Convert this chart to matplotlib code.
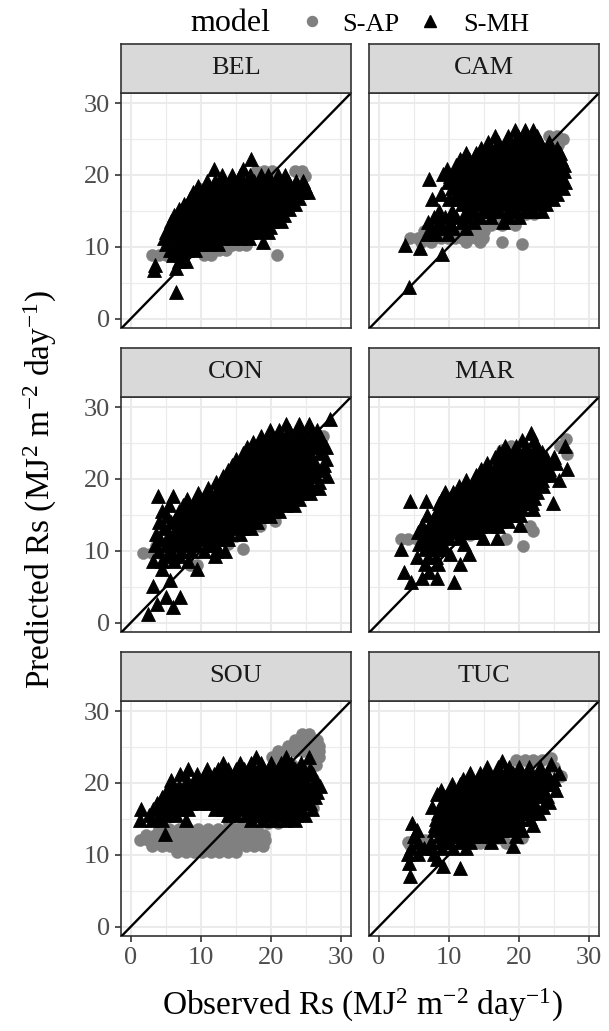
import numpy as np
import matplotlib.pyplot as plt
from matplotlib.lines import Line2D

plt.rcParams["font.family"] = ["Liberation Serif", "DejaVu Serif"]
plt.rcParams["mathtext.fontset"] = "custom"
plt.rcParams["mathtext.rm"] = "Liberation Serif"
plt.rcParams["mathtext.it"] = "Liberation Serif:italic"

sites = ["BEL", "CAM", "CON", "MAR", "SOU", "TUC"]
ticks = [0, 10, 20, 30]
minor_ticks = [5, 15, 25]
models = ["S-AP", "S-MH"]

# points, stored as rows: (predicted, [observed, ...])
bel_ap = [
    (20.6, [17.8, 19.0, 20.2, 23.4, 24.4]),
    (19.8, [24.9]),
    (18.0, [10.0]),
    (17.0, [12.0, 16.0, 20.0, 23.8]),
    (15.0, [9.0, 13.0, 17.0, 21.0]),
    (13.0, [7.0, 11.0, 15.0, 19.0]),
    (11.4, [8.0, 12.0, 16.0]),
    (10.3, [14.4, 15.4, 16.4]),
    (9.5, [11.6, 12.6, 13.6]),
    (8.8, [3.0, 4.0, 5.0, 6.0, 7.0, 10.4, 11.4]),
    (8.9, [20.8]),
]
bel_mh = [
    (22.2, [17.1]),
    (20.8, [11.9, 16.0]),
    (20.0, [13.0, 14.5, 15.5, 17.0, 18.5, 19.5, 21.0, 22.0]),
    (19.2, [10.8, 12.0, 13.2, 14.2, 15.4, 16.5, 17.6, 18.8, 20.0, 21.2, 22.4, 23.6, 24.6]),
    (18.4, [9.6, 10.8, 11.8, 13.0, 14.2, 15.2, 16.4, 17.6, 18.6, 19.8, 21.0, 22.2, 23.4, 24.8]),
    (17.6, [8.8, 10.0, 11.2, 12.4, 13.6, 14.8, 16.0, 17.2, 18.4, 19.6, 20.8, 22.0, 23.2, 24.4, 25.2]),
    (16.8, [8.4, 9.6, 10.8, 12.0, 13.2, 14.4, 15.6, 16.8, 18.0, 19.2, 20.4, 21.6, 22.8, 24.0]),
    (16.0, [7.6, 8.8, 10.0, 11.2, 12.4, 13.6, 14.8, 16.0, 17.2, 18.4, 19.6, 20.8, 22.0, 23.4]),
    (15.2, [6.8, 8.0, 9.2, 10.4, 11.6, 12.8, 14.0, 15.2, 16.4, 17.6, 18.8, 20.0, 21.2, 22.6]),
    (14.4, [6.2, 7.4, 8.6, 9.8, 11.0, 12.2, 13.4, 14.6, 15.8, 17.0, 18.2, 19.4, 20.6, 21.8]),
    (13.6, [5.8, 7.0, 8.2, 9.4, 10.6, 11.8, 13.0, 14.2, 15.4, 16.6, 17.8, 19.0, 20.2, 21.4]),
    (12.8, [5.4, 6.6, 7.8, 9.0, 10.2, 11.4, 12.6, 13.8, 15.0, 16.2, 17.4, 18.6, 19.8]),
    (12.0, [5.0, 6.2, 7.4, 8.6, 9.8, 11.0, 12.2, 13.4, 14.6, 15.8, 17.0, 18.2, 19.6]),
    (11.2, [4.8, 6.0, 7.2, 8.4, 9.6, 10.8, 12.0, 13.2, 14.4, 15.6, 16.8]),
    (10.6, [18.8]),
    (10.4, [5.0, 6.4, 7.6, 8.8, 10.0, 11.2, 12.4]),
    (9.6, [5.6, 6.8, 8.0, 9.2]),
    (8.8, [6.0, 7.2]),
    (8.0, [6.8, 7.8]),
    (7.5, [3.5]),
    (7.0, [6.4]),
    (6.8, [3.3]),
    (3.7, [6.5]),
]

cam_ap = [
    (25.4, [24.3, 25.4]),
    (25.0, [26.2]),
    (24.2, [25.6]),
    (22.0, [14.0, 18.0, 22.0]),
    (18.0, [13.0, 17.0, 21.0, 25.0]),
    (14.6, [17.0, 19.0, 21.0, 22.2]),
    (13.0, [14.6, 16.0, 17.6, 19.4]),
    (12.2, [6.4, 8.0, 10.0, 12.0, 13.8, 15.0]),
    (11.2, [4.5, 5.6, 6.8, 7.8, 8.8, 9.8, 10.8, 11.8, 12.8, 13.8, 14.8]),
    (10.6, [6.0, 7.4, 12.5, 14.5, 17.5]),
    (10.4, [20.4]),
]
cam_mh = [
    (26.2, [19.4, 20.8, 22.0]),
    (25.4, [16.5, 18.4, 19.8, 21.2, 22.6]),
    (24.6, [15.6, 17.0, 18.2, 19.4, 20.6, 21.8, 23.0, 24.2]),
    (23.8, [14.6, 15.8, 17.0, 18.2, 19.4, 20.6, 21.8, 23.0, 24.2, 25.4]),
    (23.0, [12.5, 13.8, 15.0, 16.2, 17.4, 18.6, 19.8, 21.0, 22.2, 23.4, 24.6, 25.8]),
    (22.2, [11.6, 12.8, 14.0, 15.2, 16.4, 17.6, 18.8, 20.0, 21.2, 22.4, 23.6, 24.8, 26.0]),
    (21.4, [11.0, 12.2, 13.4, 14.6, 15.8, 17.0, 18.2, 19.4, 20.6, 21.8, 23.0, 24.2, 25.4, 26.4]),
    (20.8, [9.7]),
    (20.6, [10.8, 12.0, 13.2, 14.4, 15.6, 16.8, 18.0, 19.2, 20.4, 21.6, 22.8, 24.0, 25.2, 26.4]),
    (20.1, [9.2]),
    (19.8, [10.2, 11.4, 12.6, 13.8, 15.0, 16.2, 17.4, 18.6, 19.8, 21.0, 22.2, 23.4, 24.6, 25.8]),
    (19.4, [7.1]),
    (19.0, [9.8, 11.0, 12.2, 13.4, 14.6, 15.8, 17.0, 18.2, 19.4, 20.6, 21.8, 23.0, 24.2, 25.4, 26.6]),
    (18.2, [10.4, 11.6, 12.8, 14.0, 15.2, 16.4, 17.6, 18.8, 20.0, 21.2, 22.4, 23.6, 24.8, 26.2]),
    (17.4, [8.8, 11.0, 12.2, 13.4, 14.6, 15.8, 17.0, 18.2, 19.4, 20.6, 21.8, 23.0, 24.2, 25.4]),
    (16.7, [7.6, 10.0, 11.4, 12.6, 13.8, 15.0, 16.2, 17.4, 18.6, 19.8, 21.0, 22.2, 23.4, 24.8]),
    (15.9, [11.8, 13.0, 14.2, 15.4, 16.6, 17.8, 19.0, 20.2, 21.4, 22.6, 23.8]),
    (15.0, [8.6, 10.4, 12.4, 13.6, 14.8, 16.0, 17.2, 18.4, 19.6, 20.8, 22.0, 23.2]),
    (14.2, [7.8, 9.4, 11.0, 12.6, 14.4, 16.0, 18.6, 20.0]),
    (13.4, [7.0, 8.6, 10.2, 11.8, 13.6, 17.7]),
    (12.6, [7.4, 9.0, 10.6, 12.4]),
    (11.8, [6.8, 8.2, 9.8]),
    (10.2, [3.8]),
    (9.9, [5.9]),
    (9.0, [9.0]),
    (4.4, [4.3]),
]

con_ap = [
    (26.0, [27.4]),
    (25.2, [20.4]),
    (24.6, [26.9]),
    (22.0, [18.0, 22.0, 26.0]),
    (18.0, [13.0, 17.0, 21.0]),
    (14.1, [20.6]),
    (13.4, [18.4]),
    (14.0, [11.0, 15.0]),
    (12.1, [15.0]),
    (11.0, [13.8]),
    (10.2, [16.0]),
    (10.6, [3.6, 6.0, 9.0]),
    (9.7, [1.8, 3.0, 4.2]),
    (8.8, [5.2, 6.5]),
    (8.0, [8.5, 9.4]),
]
con_mh = [
    (28.3, [28.4]),
    (27.6, [22.2, 24.0, 25.4]),
    (26.8, [19.8, 21.2, 22.6, 24.0, 25.4, 26.6]),
    (26.0, [18.6, 19.8, 21.0, 22.2, 23.4, 24.6, 25.8, 27.0]),
    (25.2, [17.4, 18.6, 19.8, 21.0, 22.2, 23.4, 24.6, 25.8, 27.4]),
    (24.4, [16.6, 17.8, 19.0, 20.2, 21.4, 22.6, 23.8, 25.0, 26.4, 27.8]),
    (23.6, [16.0, 17.2, 18.4, 19.6, 20.8, 22.0, 23.2, 24.4, 25.6, 27.0]),
    (22.8, [15.0, 16.2, 17.4, 18.6, 19.8, 21.0, 22.2, 23.4, 24.6, 25.8, 27.8]),
    (22.0, [14.4, 15.6, 16.8, 18.0, 19.2, 20.4, 21.6, 22.8, 24.0, 25.2, 26.4, 27.6]),
    (21.2, [13.8, 15.0, 16.2, 17.4, 18.6, 19.8, 21.0, 22.2, 23.4, 24.6, 25.8, 27.2]),
    (20.4, [13.2, 14.4, 15.6, 16.8, 18.0, 19.2, 20.4, 21.6, 22.8, 24.0, 25.2, 26.4, 28.0]),
    (19.6, [12.2, 13.4, 14.6, 15.8, 17.0, 18.2, 19.4, 20.6, 21.8, 23.0, 24.2, 25.4, 26.8]),
    (18.8, [11.0, 12.4, 13.6, 14.8, 16.0, 17.2, 18.4, 19.6, 20.8, 22.0, 23.2, 24.4, 25.6, 26.8]),
    (18.0, [9.6, 11.0, 12.2, 13.4, 14.6, 15.8, 17.0, 18.2, 19.4, 20.6, 21.8, 23.0, 24.4, 25.6]),
    (17.6, [3.9, 6.0]),
    (17.2, [8.0, 9.4, 10.6, 11.8, 13.0, 14.2, 15.4, 16.6, 17.8, 19.0, 20.2, 21.4, 22.8, 24.0]),
    (16.4, [5.4, 7.4, 8.8, 10.0, 11.2, 12.4, 13.6, 14.8, 16.0, 17.2, 18.4, 19.6, 20.8, 22.2, 23.2]),
    (15.6, [4.4, 6.8, 8.0, 9.2, 10.4, 11.6, 12.8, 14.0, 15.2, 16.4, 17.6, 18.8, 20.0, 21.2]),
    (14.8, [5.2, 6.6, 7.8, 9.0, 10.2, 11.4, 12.6, 13.8, 15.0, 16.2, 17.4, 18.6, 19.8]),
    (14.0, [4.0, 5.8, 7.2, 8.4, 9.6, 10.8, 12.0, 13.2, 14.4, 15.6, 16.8, 18.0]),
    (13.2, [4.8, 6.4, 7.6, 8.8, 10.0, 11.2, 12.4, 13.6, 14.8, 16.0, 17.2]),
    (12.4, [3.6, 5.4, 6.8, 8.0, 9.2, 10.4, 11.6, 12.8, 14.0, 15.6]),
    (11.6, [4.2, 6.0, 7.4, 8.6, 10.0, 11.4, 12.6, 13.8]),
    (10.8, [3.4, 5.0, 6.6, 8.0, 9.4, 11.0, 12.2]),
    (10.0, [4.0, 5.8, 7.2, 8.6, 10.4, 12.2, 13.4]),
    (9.3, [5.2, 6.8, 12.0]),
    (8.6, [3.2, 4.4, 6.2, 8.2]),
    (7.4, [4.4, 9.4]),
    (6.0, [5.6]),
    (5.1, [3.2]),
    (3.6, [5.0, 7.0]),
    (2.6, [3.7]),
    (2.2, [6.0]),
    (1.2, [2.5]),
]

mar_ap = [
    (25.5, [26.7]),
    (24.6, [18.9, 25.8]),
    (24.0, [17.6]),
    (23.4, [26.9]),
    (21.0, [16.0, 20.0, 24.0]),
    (17.0, [12.0, 16.0, 20.0]),
    (14.0, [10.0, 14.0, 18.0]),
    (13.4, [21.6]),
    (12.8, [22.0]),
    (12.2, [5.9, 13.0]),
    (11.6, [3.1, 4.2, 5.4, 6.8, 18.2]),
    (10.7, [20.6]),
]
mar_mh = [
    (26.4, [21.7]),
    (25.4, [20.4, 22.2]),
    (24.6, [18.0, 19.6, 21.0, 22.4, 26.5]),
    (23.8, [17.2, 18.4, 19.6, 20.8, 22.0, 23.2]),
    (23.0, [16.6, 17.8, 19.0, 20.2, 21.4, 22.6, 23.8, 25.0]),
    (22.2, [15.4, 16.8, 18.0, 19.2, 20.4, 21.6, 22.8, 24.0, 25.2]),
    (21.4, [14.6, 15.8, 17.0, 18.2, 19.4, 20.6, 21.8, 23.0, 24.2, 26.9]),
    (20.6, [13.8, 15.0, 16.2, 17.4, 18.6, 19.8, 21.0, 22.2, 23.4, 24.6]),
    (19.8, [12.4, 13.6, 14.8, 16.0, 17.2, 18.4, 19.6, 20.8, 22.0, 23.2, 25.7]),
    (19.0, [11.4, 12.6, 13.8, 15.0, 16.2, 17.4, 18.6, 19.8, 21.0, 22.2, 23.4]),
    (18.2, [9.4, 10.6, 11.8, 13.0, 14.2, 15.4, 16.6, 17.8, 19.0, 20.2, 21.4, 22.6]),
    (17.4, [9.0, 10.2, 11.4, 12.6, 13.8, 15.0, 16.2, 17.4, 18.6, 19.8, 21.0, 22.2]),
    (16.9, [4.5, 6.7]),
    (16.6, [8.6, 9.8, 11.0, 12.2, 13.4, 14.6, 15.8, 17.0, 18.2, 19.4, 20.6, 21.8, 24.8]),
    (15.8, [8.4, 9.6, 10.8, 12.0, 13.2, 14.4, 15.6, 16.8, 18.0, 19.2, 20.4, 22.0]),
    (15.0, [6.9, 8.2, 9.4, 10.6, 11.8, 13.0, 14.2, 15.4, 16.6, 17.8, 19.0, 20.2]),
    (14.2, [7.6, 8.8, 10.0, 11.2, 12.4, 13.6, 14.8, 16.0, 17.2, 18.4]),
    (13.6, [6.2, 20.1]),
    (13.4, [7.2, 8.4, 9.6, 10.8, 12.0, 13.2, 14.4, 15.6, 17.0]),
    (12.6, [5.6, 7.0, 8.2, 9.4, 10.6, 11.8, 13.0, 14.0]),
    (11.8, [6.4, 7.6, 8.8, 10.0, 11.4, 14.9, 16.8]),
    (11.0, [5.8, 7.0, 8.0, 9.2, 12.2]),
    (10.2, [3.1, 6.6, 7.8, 9.0]),
    (9.6, [10.2, 12.8]),
    (9.2, [5.4, 7.0, 8.2]),
    (8.2, [6.6, 8.5, 11.6]),
    (7.0, [3.6, 7.2]),
    (6.2, [6.2, 8.3]),
    (5.6, [4.6, 10.7]),
]

sou_ap = [
    (26.8, [24.4, 25.4]),
    (26.0, [23.4, 24.6, 25.8, 26.6]),
    (25.2, [22.4, 23.6, 24.8, 26.0, 26.8]),
    (24.4, [21.0, 22.2, 23.4, 24.6, 25.8, 26.8]),
    (23.6, [20.2, 21.4, 26.8]),
    (22.5, [21.0, 23.0, 25.0, 26.4]),
    (20.5, [22.0, 24.0, 26.0]),
    (18.5, [21.0, 23.0, 25.0, 26.4]),
    (16.5, [20.0, 22.0, 24.0, 26.0]),
    (15.2, [19.0, 20.4, 21.6]),
    (14.4, [14.0, 16.0, 18.0, 19.6, 21.0]),
    (13.6, [4.0, 5.4, 6.8, 8.2, 9.6, 11.0, 12.4, 13.8, 15.2, 16.6, 18.0]),
    (12.8, [2.2, 3.4, 4.6, 5.8, 7.0, 8.2, 9.4, 10.6, 11.8, 13.0, 14.2, 15.4, 16.6, 17.8, 19.0]),
    (12.0, [1.3, 2.4, 3.6, 4.8, 6.0, 7.2, 8.4, 9.6, 10.8, 12.0, 13.2, 14.4, 15.6, 16.8, 18.0, 19.2]),
    (11.2, [3.0, 4.4, 5.6, 6.8, 8.0, 9.2, 10.4, 11.6, 12.8, 14.0, 15.2, 16.4, 17.6, 18.8]),
    (10.4, [6.6, 7.8, 9.0, 10.2, 11.4, 12.6, 13.8, 15.0]),
]
sou_mh = [
    (23.6, [17.9, 22.2, 25.4]),
    (22.8, [13.2, 15.6, 17.2, 18.6, 20.0, 21.4, 22.8, 24.2]),
    (22.0, [8.2, 10.8, 12.4, 13.8, 15.0, 16.2, 17.4, 18.6, 19.8, 21.0, 22.2, 23.4, 24.6, 25.6]),
    (21.2, [7.0, 9.4, 10.6, 11.8, 13.0, 14.2, 15.4, 16.6, 17.8, 19.0, 20.2, 21.4, 22.6, 23.8, 25.0, 26.0]),
    (20.4, [5.8, 8.0, 9.2, 10.4, 11.6, 12.8, 14.0, 15.2, 16.4, 17.6, 18.8, 20.0, 21.2, 22.4, 23.6, 24.8, 26.2]),
    (19.6, [5.6, 6.8, 8.0, 9.2, 10.4, 11.6, 12.8, 14.0, 15.2, 16.4, 17.6, 18.8, 20.0, 21.2, 22.4, 23.6, 24.8, 26.0, 27.0]),
    (18.8, [5.0, 6.2, 7.4, 8.6, 9.8, 11.0, 12.2, 13.4, 14.6, 15.8, 17.0, 18.2, 19.4, 20.6, 21.8, 23.0, 24.2, 25.4, 26.6]),
    (18.0, [4.4, 5.6, 6.8, 8.0, 9.2, 10.4, 11.6, 12.8, 14.0, 15.2, 16.4, 17.6, 18.8, 20.0, 21.2, 22.4, 23.6, 24.8, 26.2]),
    (17.2, [3.8, 5.0, 6.2, 7.4, 8.6, 9.8, 11.0, 12.2, 13.4, 14.6, 15.8, 17.0, 18.2, 19.4, 20.6, 21.8, 23.0, 24.2, 25.6]),
    (16.4, [1.5, 3.2, 4.4, 5.6, 6.8, 8.2, 12.0, 13.2, 14.4, 15.6, 16.8, 18.0, 19.2, 20.4, 21.6, 22.8, 24.0, 25.8]),
    (15.6, [2.6, 4.0, 5.2, 6.4, 13.8, 15.0, 16.4, 17.6, 18.8, 20.0, 21.2, 22.4, 23.6, 24.8]),
    (14.8, [1.3, 3.0, 4.4, 7.9, 17.2, 18.8, 20.4, 22.0, 23.4]),
    (12.9, [4.9]),
]

tuc_ap = [
    (23.2, [19.6, 20.8, 22.0, 23.2]),
    (23.4, [24.6]),
    (22.2, [25.0]),
    (21.0, [26.0]),
    (20.0, [14.0, 18.0, 22.0]),
    (16.0, [10.0, 14.0, 18.0, 22.0]),
    (14.0, [8.3]),
    (12.4, [13.0, 17.0, 20.4]),
    (12.0, [5.2, 6.6]),
    (11.8, [4.2]),
    (11.6, [14.4, 15.6, 18.2]),
    (11.3, [4.5, 5.4]),
]
tuc_mh = [
    (23.1, [17.5]),
    (22.7, [24.6]),
    (22.2, [15.4, 17.0, 18.6, 20.0, 21.4, 23.0]),
    (21.4, [13.0, 14.4, 15.6, 16.8, 18.0, 19.2, 20.4, 21.6, 22.8, 24.0, 25.7]),
    (20.6, [12.0, 13.2, 14.4, 15.6, 16.8, 18.0, 19.2, 20.4, 21.6, 22.8, 24.0, 25.0]),
    (19.8, [10.4, 11.6, 12.8, 14.0, 15.2, 16.4, 17.6, 18.8, 20.0, 21.2, 22.4, 23.6, 24.8]),
    (19.0, [8.8, 10.2, 11.4, 12.6, 13.8, 15.0, 16.2, 17.4, 18.6, 19.8, 21.0, 22.2, 23.4, 25.2]),
    (18.4, [8.3]),
    (18.2, [9.6, 10.8, 12.0, 13.2, 14.4, 15.6, 16.8, 18.0, 19.2, 20.4, 21.6, 22.8, 24.0]),
    (17.4, [9.0, 10.2, 11.4, 12.6, 13.8, 15.0, 16.2, 17.4, 18.6, 19.8, 21.0, 22.2, 24.2]),
    (16.6, [7.6, 8.8, 10.0, 11.2, 12.4, 13.6, 14.8, 16.0, 17.2, 18.4, 19.6, 20.8, 22.0, 23.4]),
    (15.8, [8.4, 9.6, 10.8, 12.0, 13.2, 14.4, 15.6, 16.8, 18.0, 19.2, 20.4, 21.6, 22.8]),
    (15.0, [8.2, 9.4, 10.6, 11.8, 13.0, 14.2, 15.4, 16.6, 17.8, 19.0, 20.2, 21.6]),
    (14.4, [4.8]),
    (14.2, [8.0, 9.2, 10.4, 11.6, 12.8, 14.0, 15.2, 16.4, 17.6, 18.8, 20.0, 22.0]),
    (13.4, [5.5, 7.8, 9.0, 10.2, 11.4, 12.6, 13.8, 15.0, 16.2, 17.4, 18.8, 20.4]),
    (12.6, [5.0, 8.6, 9.8, 11.0, 12.2, 13.4, 14.6, 15.8, 17.2, 19.6]),
    (11.8, [5.6, 7.4, 8.8, 10.0, 11.6, 13.0, 16.0]),
    (11.2, [19.2]),
    (11.0, [4.6, 6.4, 7.6, 9.0, 10.6, 12.4]),
    (10.1, [4.1, 5.6, 7.8]),
    (9.4, [8.3]),
    (8.9, [4.3]),
    (8.5, [9.2]),
    (8.2, [11.6]),
    (7.1, [4.5]),
]

site_data = {
    "BEL": (bel_ap, bel_mh), "CAM": (cam_ap, cam_mh),
    "CON": (con_ap, con_mh), "MAR": (mar_ap, mar_mh),
    "SOU": (sou_ap, sou_mh), "TUC": (tuc_ap, tuc_mh),
}


def unpack(rows):
    xs = [x for y, row in rows for x in row]
    ys = [y for y, row in rows for x in row]
    return np.array(xs), np.array(ys)


W, H = 609, 1031
fig = plt.figure(figsize=(W / 100, H / 100), dpi=100)

col_left = [121, 369]
row_top = [93, 397, 701]
pw, ph, sh = 230, 235, 49

ap_color = "#808080"
border = "#333333"

for i, site in enumerate(sites):
    r, c = divmod(i, 2)
    x0 = col_left[c] / W
    y0 = 1 - (row_top[r] + ph) / H
    ax = fig.add_axes([x0, y0, pw / W, ph / H])

    ap_rows, mh_rows = site_data[site]
    ap_x, ap_y = unpack(ap_rows)
    mh_x, mh_y = unpack(mh_rows)
    ax.scatter(ap_x, ap_y, s=76, marker="o", color=ap_color,
               edgecolors=ap_color, linewidths=0.3, zorder=3)
    ax.scatter(mh_x, mh_y, s=100, marker="^", color="black",
               edgecolors="black", linewidths=0.6, zorder=4)
    ax.axline((0, 0), slope=1, color="black", lw=1.7, zorder=5)

    ax.set_xlim(-1.4, 31.4)
    ax.set_ylim(-1.3, 31.4)
    ax.set_xticks(ticks)
    ax.set_yticks(ticks)
    ax.set_xticks(minor_ticks, minor=True)
    ax.set_yticks(minor_ticks, minor=True)
    ax.grid(which="major", color="#EBEBEB", lw=1.5, zorder=0)
    ax.grid(which="minor", color="#EBEBEB", lw=0.8, zorder=0)
    ax.set_axisbelow(True)
    for sp in ax.spines.values():
        sp.set_color(border)
        sp.set_linewidth(1.2)
    ax.tick_params(which="minor", length=0)
    ax.tick_params(which="major", length=4, width=1.2, color=border,
                   labelsize=19, labelcolor="#4D4D4D", pad=4)
    if c != 0:
        ax.tick_params(axis="y", length=0, labelleft=False)
    if r != 2:
        ax.tick_params(axis="x", length=0, labelbottom=False)

    sax = fig.add_axes([x0, 1 - row_top[r] / H, pw / W, sh / H])
    sax.set_facecolor("#D9D9D9")
    sax.set_xticks([])
    sax.set_yticks([])
    for sp in sax.spines.values():
        sp.set_color(border)
        sp.set_linewidth(1.2)
    sax.text(0.5, 0.5, site, ha="center", va="center", fontsize=19,
             color="#1A1A1A", transform=sax.transAxes)

# legend across the top
fig.text(190 / W, 1 - 31 / H, "model", fontsize=23, ha="left", va="baseline")
fig.add_artist(Line2D([312 / W], [1 - 21 / H], marker="o", color=ap_color,
                      markersize=7.2, linestyle="none", transform=fig.transFigure))
fig.text(342 / W, 1 - 31 / H, models[0], fontsize=19, ha="left", va="baseline")
fig.add_artist(Line2D([430 / W], [1 - 21 / H], marker="^", color="black",
                      markersize=8.0, linestyle="none", transform=fig.transFigure))
fig.text(463 / W, 1 - 31 / H, models[1], fontsize=19, ha="left", va="baseline")

fig.text(362 / W, 1 - 1005 / H, r"Observed Rs (MJ$^{2}$ m$^{-2}$ day$^{-1}$)",
         fontsize=24, ha="center", va="center")
fig.text(40 / W, 1 - 490 / H, r"Predicted Rs (MJ$^{2}$ m$^{-2}$ day$^{-1}$)",
         fontsize=24, ha="center", va="center", rotation=90)

fig.savefig("out.png", dpi=100)
